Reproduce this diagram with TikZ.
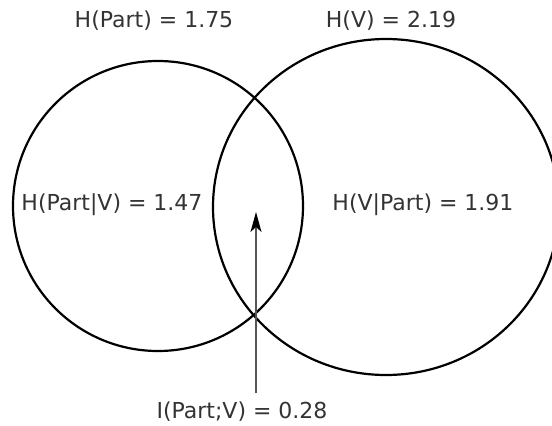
\documentclass[tikz,border=0pt]{standalone}
\usepackage{fontspec}
\setmainfont{DejaVu Sans}
\usetikzlibrary{arrows.meta,shapes.geometric}
\definecolor{txt}{HTML}{333333}
\definecolor{arr}{HTML}{555555}
\begin{document}
\begin{tikzpicture}[x=1pt,y=-1pt,
  lbl/.style={anchor=base,text=txt,inner sep=0pt,font=\fontsize{22}{26}\selectfont},
  setc/.style={draw=black,line width=2.2pt,inner sep=0pt,outer sep=0pt}]
\useasboundingbox (0,0) rectangle (552,426);
\begin{scope}
\clip (0,0) rectangle (552,426);
\node[setc,circle,minimum size=290pt] (P) at (158,206) {};
\node[setc,ellipse,minimum width=346pt,minimum height=336pt] (V) at (386,207) {};
\end{scope}
\node[lbl] (hp) at (154,27) {H(Part) = 1.75};
\node[lbl] (hv) at (391,27) {H(V) = 2.19};
\node[lbl] (hpv) at (112,210) {H(Part|V) = 1.47};
\node[lbl] (hvp) at (423,210) {H(V|Part) = 1.91};
\node[lbl] (ipv) at (242,418) {I(Part;V) = 0.28};
\coordinate (tail) at (256,393);
\coordinate (tip) at (256,212);
\draw[arr,line width=1.5pt,-{Stealth[length=20pt,width=11pt,inset=5pt,color=black]}] (tail) -- (tip);
\end{tikzpicture}
\end{document}
